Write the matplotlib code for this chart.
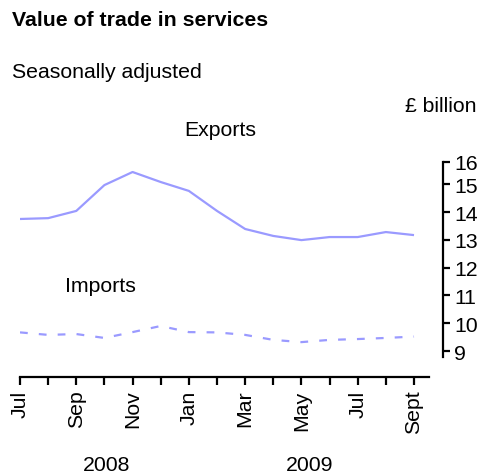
import matplotlib
matplotlib.use("Agg")
import matplotlib.pyplot as plt

plt.rcParams['font.family'] = ['Liberation Sans', 'DejaVu Sans']

# Дані: липень 2008 - вересень 2009, £ млрд
months = ["Jul", "Aug", "Sep", "Oct", "Nov", "Dec", "Jan", "Feb",
          "Mar", "Apr", "May", "Jun", "Jul", "Aug", "Sept"]
exports = [13.75, 13.78, 14.04, 14.97, 15.44, 15.08, 14.76, 14.04,
           13.39, 13.14, 12.99, 13.10, 13.10, 13.28, 13.17]
imports = [9.67, 9.58, 9.61, 9.47, 9.68, 9.90, 9.68, 9.67,
           9.58, 9.40, 9.32, 9.40, 9.43, 9.47, 9.52]
y_ticks = [9, 10, 11, 12, 13, 14, 15, 16]
years = ["2008", "2009"]

color = "#9a9aff"
fs = 15.3
W, H = 478, 477

fig = plt.figure(figsize=(W / 100, H / 100), dpi=100)
ax = fig.add_axes([20 / W, (H - 378) / H, (443 - 20) / W, (378 - 163) / H])

x = list(range(len(months)))
ax.plot(x, exports, color=color, lw=1.6, solid_capstyle="butt")
ax.plot(x, imports, color=color, lw=1.6, dashes=(3.5, 5))

ax.set_xlim(0, 15.03)
ax.set_ylim(8.065, 15.8)

# осі
for s in ("top", "left"):
    ax.spines[s].set_visible(False)
ax.spines["bottom"].set_linewidth(1.6)
ax.spines["right"].set_linewidth(1.6)
ax.spines["bottom"].set_bounds(0, 14.55)
ax.spines["right"].set_bounds(8.78, 15.8)

ax.set_xticks(x)
ax.set_xticklabels([m if i % 2 == 0 else "" for i, m in enumerate(months)],
                   rotation=90, fontsize=fs, va="top")
ax.tick_params(axis="x", direction="out", length=6, width=1.6, pad=3)

ax.yaxis.tick_right()
ax.set_yticks(y_ticks[:-1] + [15.8])
ax.set_yticklabels([str(v) for v in y_ticks], fontsize=fs)
ax.tick_params(axis="y", direction="out", length=5, width=1.6, pad=3)

# підписи
fig.text(12 / W, 1 - 20 / H, "Value of trade in services", fontsize=fs,
         fontweight="bold", va="center", ha="left")
fig.text(12 / W, 1 - 72 / H, "Seasonally adjusted", fontsize=fs,
         va="center", ha="left")
fig.text(405 / W, 1 - 107 / H, "£ billion", fontsize=fs, va="center", ha="left")
fig.text(220 / W, 1 - 131 / H, "Exports", fontsize=fs, va="center", ha="center")
fig.text(100 / W, 1 - 287 / H, "Imports", fontsize=fs, va="center", ha="center")
fig.text(107 / W, 1 - 466 / H, years[0], fontsize=fs, va="center", ha="center")
fig.text(310 / W, 1 - 466 / H, years[1], fontsize=fs, va="center", ha="center")

fig.savefig("out.png", dpi=100)
